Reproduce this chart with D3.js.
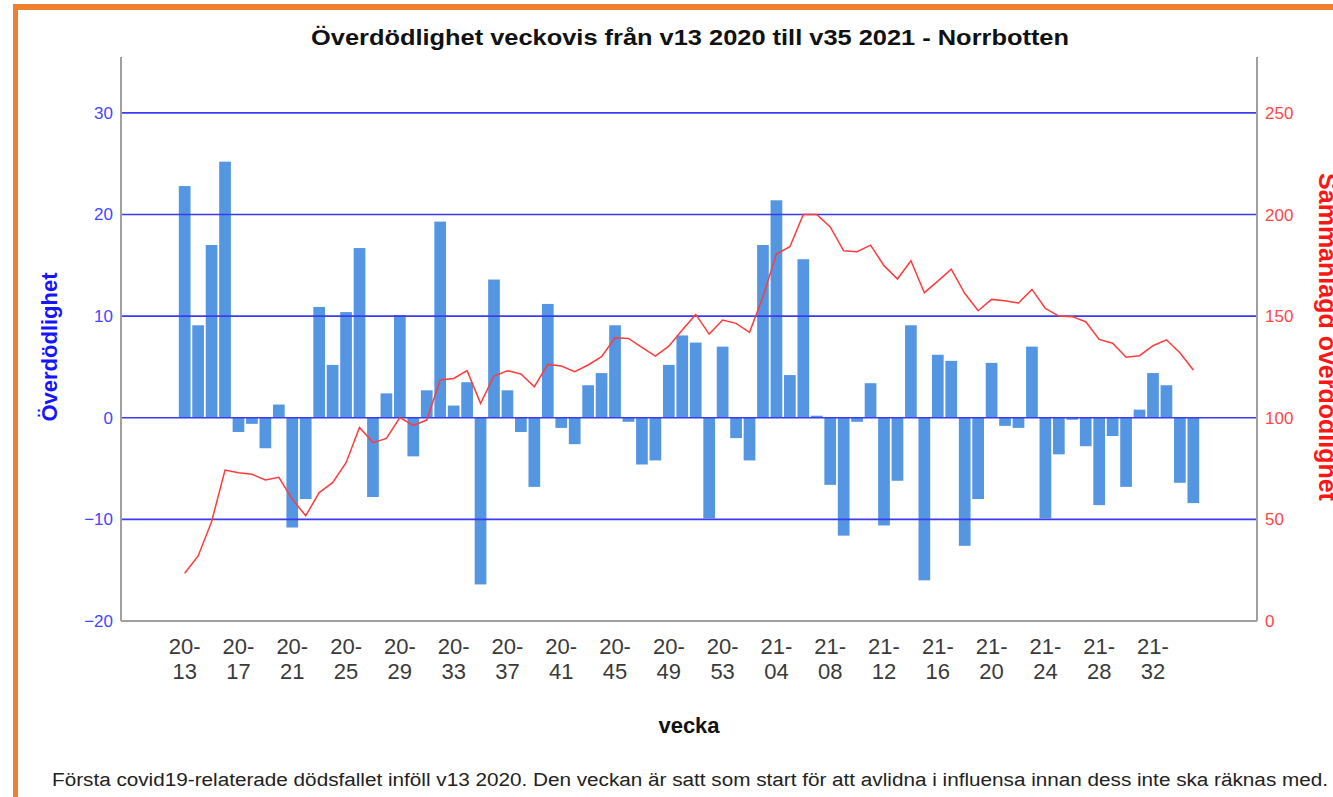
<!DOCTYPE html>
<html lang="sv">
<head>
   <meta charset="UTF-8">
   <title>Överdödlighet Norrbotten</title>
   <script src="https://cdn.jsdelivr.net/npm/d3@7"></script>
   <style>
      body { margin: 0; background: #fff; }
      svg { display: block; font-family: "Liberation Sans", Arial, sans-serif; }
   </style>
</head>
<body>
   <div class="d3"></div>
   <script>
      // data
      const weeks = [
         '20-13', '20-14', '20-15', '20-16', '20-17', '20-18', '20-19', '20-20', '20-21', '20-22',
         '20-23', '20-24', '20-25', '20-26', '20-27', '20-28', '20-29', '20-30', '20-31', '20-32',
         '20-33', '20-34', '20-35', '20-36', '20-37', '20-38', '20-39', '20-40', '20-41', '20-42',
         '20-43', '20-44', '20-45', '20-46', '20-47', '20-48', '20-49', '20-50', '20-51', '20-52',
         '20-53', '21-01', '21-02', '21-03', '21-04', '21-05', '21-06', '21-07', '21-08', '21-09',
         '21-10', '21-11', '21-12', '21-13', '21-14', '21-15', '21-16', '21-17', '21-18', '21-19',
         '21-20', '21-21', '21-22', '21-23', '21-24', '21-25', '21-26', '21-27', '21-28', '21-29',
         '21-30', '21-31', '21-32', '21-33', '21-34', '21-35'
      ]

      const overdodlighet = [
         22.8, 9.1, 17.0, 25.2, -1.4, -0.6, -3.0, 1.3, -10.8, -8.0,
         10.9, 5.2, 10.4, 16.7, -7.8, 2.4, 10.1, -3.8, 2.7, 19.3,
         1.2, 3.5, -16.4, 13.6, 2.7, -1.4, -6.8, 11.2, -1.0, -2.6,
         3.2, 4.4, 9.1, -0.4, -4.6, -4.2, 5.2, 8.1, 7.4, -9.9,
         7.0, -2.0, -4.2, 17.0, 21.4, 4.2, 15.6, 0.2, -6.6, -11.6,
         -0.4, 3.4, -10.6, -6.2, 9.1, -16.0, 6.2, 5.6, -12.6, -8.0,
         5.4, -0.8, -1.0, 7.0, -9.9, -3.6, -0.2, -2.8, -8.6, -1.8,
         -6.8, 0.8, 4.4, 3.2, -6.4, -8.4
      ]

      const sammanlagd = [
         23.5, 32.0, 48.9, 74.3, 73.0, 72.2, 69.4, 70.7, 60.0, 51.8,
         63.2, 68.1, 77.9, 95.3, 87.8, 89.9, 100.1, 96.3, 98.9, 118.6,
         119.4, 123.2, 107.1, 120.6, 123.2, 121.6, 115.3, 126.3, 125.5, 122.7,
         126.0, 130.1, 139.4, 139.1, 134.7, 130.4, 135.3, 143.2, 150.9, 141.2,
         148.1, 146.5, 142.1, 159.6, 180.6, 184.2, 200.1, 200.1, 194.0, 182.2,
         181.8, 185.0, 174.9, 168.3, 177.3, 161.6, 167.3, 173.2, 161.3, 152.7,
         158.3, 157.6, 156.5, 163.2, 153.9, 150.1, 149.8, 147.3, 138.6, 136.7,
         129.8, 130.6, 135.5, 138.4, 132.0, 123.5
      ]

      const leftTicks = [-20, -10, 0, 10, 20, 30]
      const rightTicks = [0, 50, 100, 150, 200, 250]
      const xTickLabels = weeks.filter((d, i) => i % 4 === 0)

      // constants
      const WIDTH = 1333
      const HEIGHT = 797
      const LEFT = 121
      const RIGHT = 1257
      const TOP = 57
      const BOTTOM = 621

      const BAR_FILL = '#5596e3'
      const GRID_STROKE = '#3b3bf2'
      const AXIS_STROKE = '#a0a0a0'
      const LINE_STROKE = '#ff3b3b'
      const BORDER = '#ee8030'

      const svg = d3.select('.d3').append('svg')
         .attr('width', WIDTH)
         .attr('height', HEIGHT)

      // frame
      svg.append('rect')
         .attr('x', 13).attr('y', 4)
         .attr('width', WIDTH - 13).attr('height', 6)
         .attr('fill', BORDER)
      svg.append('rect')
         .attr('x', 13).attr('y', 4)
         .attr('width', 5).attr('height', HEIGHT - 4)
         .attr('fill', BORDER)

      // scales
      const x = d3.scaleBand()
         .domain(weeks)
         .range([LEFT, RIGHT])
         .paddingInner(0.13)
         .paddingOuter(4.3)

      const yL = d3.scaleLinear().domain([-20, 35.5]).range([BOTTOM, TOP])
      const yR = d3.scaleLinear().domain([0, 277.6]).range([BOTTOM, TOP])

      // bars
      svg.append('g')
         .selectAll('rect')
         .data(overdodlighet)
         .join('rect')
         .attr('x', (d, i) => x(weeks[i]))
         .attr('width', x.bandwidth())
         .attr('y', d => yL(Math.max(0, d)))
         .attr('height', d => Math.abs(yL(d) - yL(0)))
         .attr('fill', BAR_FILL)

      // grid
      svg.append('g')
         .selectAll('line')
         .data(leftTicks.filter(d => d > -20))
         .join('line')
         .attr('x1', LEFT).attr('x2', RIGHT)
         .attr('y1', d => yL(d)).attr('y2', d => yL(d))
         .attr('stroke', GRID_STROKE)
         .attr('stroke-width', 1.6)

      // line
      const line = d3.line()
         .x((d, i) => x(weeks[i]) + x.bandwidth() / 2)
         .y(d => yR(d))

      svg.append('path')
         .datum(sammanlagd)
         .attr('d', line)
         .attr('fill', 'none')
         .attr('stroke', LINE_STROKE)
         .attr('stroke-width', 1.5)

      // axes
      const leftAxis = svg.append('g')
         .attr('transform', `translate(${LEFT}, 0)`)
         .call(d3.axisLeft(yL).tickValues(leftTicks).tickSize(0).tickPadding(8))
      leftAxis.selectAll('text')
         .attr('fill', '#4646ff')
         .style('font-size', '17px')

      const rightAxis = svg.append('g')
         .attr('transform', `translate(${RIGHT}, 0)`)
         .call(d3.axisRight(yR).tickValues(rightTicks).tickSize(0).tickPadding(8))
      rightAxis.selectAll('text')
         .attr('fill', '#ff4646')
         .style('font-size', '17px')

      // two-line week labels
      const bottomAxis = svg.append('g')
         .attr('transform', `translate(0, ${BOTTOM})`)
         .call(d3.axisBottom(x).tickValues(xTickLabels).tickSize(0).tickPadding(0))
      bottomAxis.selectAll('text')
         .attr('fill', '#3a3a3a')
         .attr('dy', null)
         .attr('y', null)
         .style('font-size', '22px')
         .text(null)
         .each(function (d) {
            const parts = d.split('-')
            const t = d3.select(this)
            t.append('tspan').attr('x', 0).attr('y', 33).text(parts[0] + '-')
            t.append('tspan').attr('x', 0).attr('y', 58).text(parts[1])
         })

      svg.selectAll('.domain')
         .attr('stroke', AXIS_STROKE)
         .attr('stroke-width', 2)
      leftAxis.select('.domain').attr('d', `M0,${TOP}V${BOTTOM}`)
      rightAxis.select('.domain').attr('d', `M0,${TOP}V${BOTTOM}`)
      bottomAxis.select('.domain').attr('d', `M${LEFT},0H${RIGHT}`)

      // titles
      svg.append('text')
         .attr('x', 690).attr('y', 45)
         .attr('text-anchor', 'middle')
         .attr('textLength', 758)
         .attr('lengthAdjust', 'spacingAndGlyphs')
         .style('font-size', '22px')
         .style('font-weight', 'bold')
         .attr('fill', '#111')
         .text('Överdödlighet veckovis från v13 2020 till v35 2021 - Norrbotten')

      svg.append('text')
         .attr('transform', 'translate(57, 347) rotate(-90)')
         .attr('text-anchor', 'middle')
         .style('font-size', '22px')
         .style('font-weight', 'bold')
         .attr('fill', '#1515ff')
         .text('Överdödlighet')

      svg.append('text')
         .attr('transform', 'translate(1319, 337) rotate(90)')
         .attr('text-anchor', 'middle')
         .style('font-size', '25px')
         .style('font-weight', 'bold')
         .attr('fill', '#ff1515')
         .text('Sammanlagd överdödlighet')

      svg.append('text')
         .attr('x', 689).attr('y', 733)
         .attr('text-anchor', 'middle')
         .style('font-size', '22px')
         .style('font-weight', 'bold')
         .attr('fill', '#111')
         .text('vecka')

      svg.append('text')
         .attr('x', 52).attr('y', 786)
         .attr('textLength', 1276)
         .attr('lengthAdjust', 'spacingAndGlyphs')
         .style('font-size', '18px')
         .attr('fill', '#222')
         .text('Första covid19-relaterade dödsfallet inföll v13 2020. Den veckan är satt som start för att avlidna i influensa innan dess inte ska räknas med.')
   </script>
</body>
</html>
